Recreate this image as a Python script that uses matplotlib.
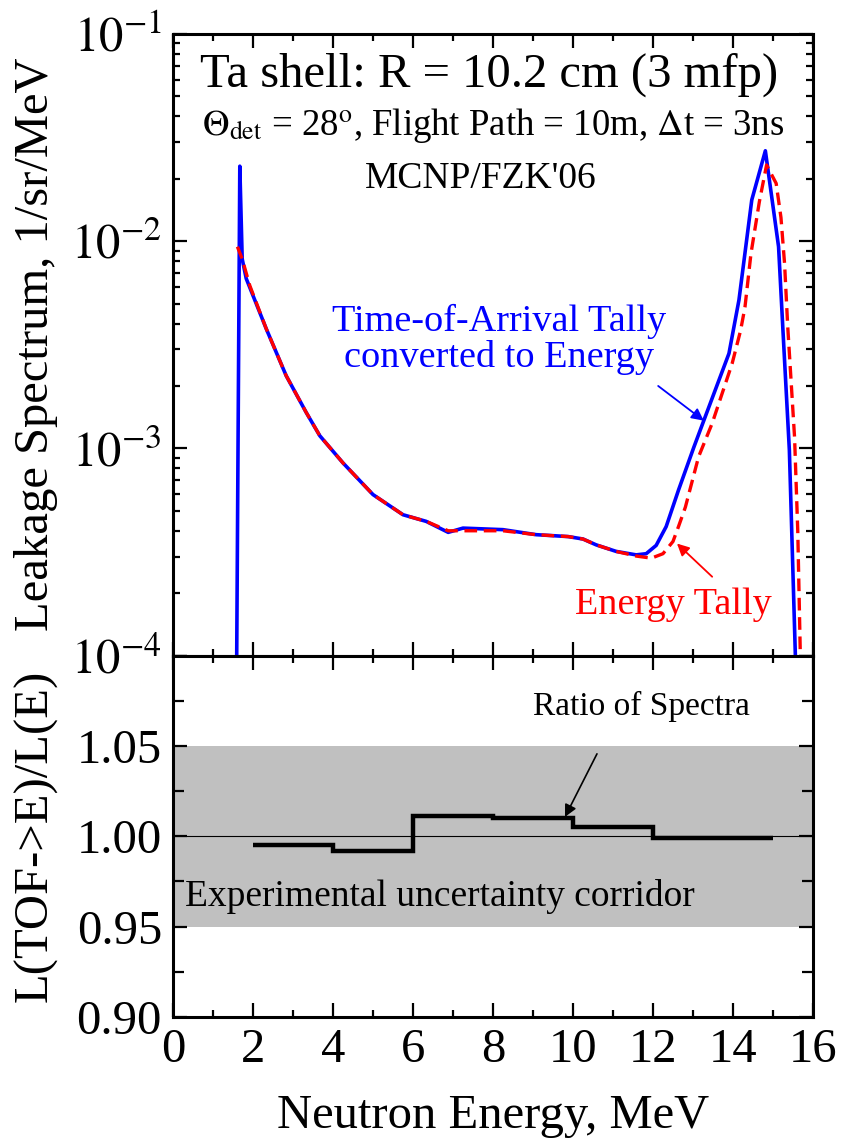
import matplotlib
matplotlib.use("Agg")
import matplotlib.pyplot as plt
import numpy as np
from matplotlib.ticker import MultipleLocator, LogLocator, NullFormatter

plt.rcParams["font.family"] = ["Liberation Serif", "DejaVu Serif"]
plt.rcParams["mathtext.fontset"] = "stix"

# time-of-arrival tally converted to energy (blue)
tof_e = [1.56, 1.67, 1.73, 1.83, 2.33, 2.83, 3.33, 3.67, 4.25, 5.0, 5.75, 6.33,
         6.88, 7.25, 8.25, 9.08, 9.88, 10.25, 10.58, 11.08, 11.58, 11.83, 12.08,
         12.33, 12.64, 13.02, 13.27, 13.9, 14.15, 14.47, 14.81, 15.14, 15.25,
         15.41, 15.56, 15.62]
tof_val = [1e-5, 2.3e-2, 8.2e-3, 6.6e-3, 3.78e-3, 2.24e-3, 1.49e-3, 1.15e-3, 8.5e-4,
           5.98e-4, 4.78e-4, 4.44e-4, 3.93e-4, 4.12e-4, 4.05e-4, 3.83e-4, 3.75e-4,
           3.65e-4, 3.42e-4, 3.18e-4, 3.06e-4, 3.1e-4, 3.4e-4, 4.19e-4, 6.3e-4,
           1.01e-3, 1.36e-3, 2.87e-3, 5.2e-3, 1.58e-2, 2.73e-2, 9.4e-3, 3.7e-3,
           9.8e-4, 1.0e-4, 4e-5]

# energy tally (red dashed)
en_e = [1.61, 1.73, 1.92, 2.33, 2.83, 3.33, 3.67, 4.25, 5.0, 5.75, 6.33, 6.88,
        7.25, 8.25, 9.08, 9.88, 10.25, 10.58, 11.08, 11.58, 11.96, 12.25, 12.5,
        12.64, 12.81, 13.14, 13.48, 13.98, 14.19, 14.3, 14.45, 14.66, 14.84, 15.08,
        15.2, 15.29, 15.37, 15.54, 15.62, 15.68, 15.72]
en_val = [9.4e-3, 8.2e-3, 6.1e-3, 3.78e-3, 2.24e-3, 1.49e-3, 1.15e-3, 8.5e-4, 5.98e-4,
          4.78e-4, 4.44e-4, 4.0e-4, 4.0e-4, 4.0e-4, 3.83e-4, 3.75e-4, 3.65e-4,
          3.42e-4, 3.18e-4, 3.02e-4, 2.95e-4, 3.1e-4, 3.55e-4, 4.2e-4, 5.2e-4,
          9.1e-4, 1.32e-3, 2.57e-3, 3.7e-3, 4.8e-3, 8.7e-3, 1.55e-2, 2.33e-2,
          1.9e-2, 1.3e-2, 7.8e-3, 3.85e-3, 1.13e-3, 4.0e-4, 1.1e-4, 4e-5]

# ratio of spectra, bin edges and values
ratio_edges = [2, 4, 6, 8, 10, 12, 15]
ratio_vals = [0.995, 0.992, 1.011, 1.010, 1.005, 0.999]

fig = plt.figure(figsize=(8.51, 11.43), dpi=100)
ax1 = fig.add_axes([0.2033, 0.4265, 0.752, 0.5438])
ax2 = fig.add_axes([0.2033, 0.1102, 0.752, 0.3163])

ax1.plot(tof_e, tof_val, color="#0000ff", lw=2.6, zorder=3)
ax1.plot(en_e, en_val, color="#ff0000", lw=2.4, ls=(0, (3.8, 2)), zorder=4)
ax1.set_yscale("log")
ax1.set_xlim(0, 16)
ax1.set_ylim(1e-4, 1e-1)

ax1.text(7.9, 0.0634, "Ta shell: R = 10.2 cm (3 mfp)", fontsize=35,
         ha="center", va="center")
ax1.text(8.0, 0.0363, r"$\Theta_{\rm det}$ = 28$^{\rm o}$, Flight Path = 10m, $\Delta$t = 3ns",
         fontsize=26.5, ha="center", va="center")
ax1.text(7.7, 0.0201, "MCNP/FZK'06", fontsize=27, ha="center", va="center")
ax1.text(8.15, 3.35e-3, "Time-of-Arrival Tally\nconverted to Energy", fontsize=27.5,
         ha="center", va="center", color="#0000ff", linespacing=1.05)
ax1.text(12.5, 1.76e-4, "Energy Tally", fontsize=27.5, ha="center", va="center",
         color="#ff0000")
ax1.annotate("", xy=(13.27, 1.36e-3), xytext=(12.13, 2.0e-3),
             arrowprops=dict(arrowstyle="-|>", color="#0000ff", lw=1.3,
                             mutation_scale=18, shrinkA=0, shrinkB=0))
ax1.annotate("", xy=(12.6, 3.47e-4), xytext=(13.48, 2.4e-4),
             arrowprops=dict(arrowstyle="-|>", color="#ff0000", lw=1.3,
                             mutation_scale=18, shrinkA=0, shrinkB=0))

ax2.axhspan(0.95, 1.05, color="#c0c0c0", lw=0, zorder=0)
ax2.axhline(1.0, color="black", lw=0.8, zorder=1)
ax2.stairs(ratio_vals, ratio_edges, color="black", lw=3.2, baseline=None, zorder=3)
ax2.set_xlim(0, 16)
ax2.set_ylim(0.9, 1.1)
ax2.text(11.7, 1.0717, "Ratio of Spectra", fontsize=24, ha="center", va="center")
ax2.text(0.3, 0.9667, "Experimental uncertainty corridor", fontsize=27,
         ha="left", va="center")
ax2.annotate("", xy=(9.8, 1.0107), xytext=(10.6, 1.0456),
             arrowprops=dict(arrowstyle="-|>", color="black", lw=1.2,
                             mutation_scale=18, shrinkA=0, shrinkB=0))

for ax in (ax1, ax2):
    ax.xaxis.set_major_locator(MultipleLocator(2))
    ax.xaxis.set_minor_locator(MultipleLocator(1))
    ax.tick_params(which="both", direction="in", top=True, right=True, width=1.6,
                   labelsize=35, pad=8)
    ax.tick_params(which="major", length=10)
    ax.tick_params(which="minor", length=5)
    for sp in ax.spines.values():
        sp.set_linewidth(2.2)

ax1.tick_params(axis="x", labelbottom=False)
ax1.yaxis.set_minor_locator(LogLocator(base=10, subs=np.arange(2, 10), numticks=20))
ax1.yaxis.set_minor_formatter(NullFormatter())
ax1.set_yticks([1e-4, 1e-3, 1e-2, 1e-1])
ax1.set_yticklabels([r"$10^{-4}$", r"$10^{-3}$", r"$10^{-2}$", r"$10^{-1}$"])

ax2.yaxis.set_minor_locator(MultipleLocator(0.025))
ax2.set_yticks([0.90, 0.95, 1.00, 1.05, 1.10])
ax2.set_yticklabels(["0.90", "0.95", "1.00", "1.05", ""])
ax2.tick_params(which="minor", axis="y", length=8)

ax1.set_ylabel("Leakage Spectrum, 1/sr/MeV", fontsize=35)
ax2.set_ylabel("L(TOF->E)/L(E)", fontsize=35)
ax2.set_xlabel("Neutron Energy, MeV", fontsize=35, labelpad=16)
ax1.yaxis.set_label_coords(-0.18, 0.5)
ax2.yaxis.set_label_coords(-0.18, 0.5)

fig.savefig("out.png", dpi=100)
